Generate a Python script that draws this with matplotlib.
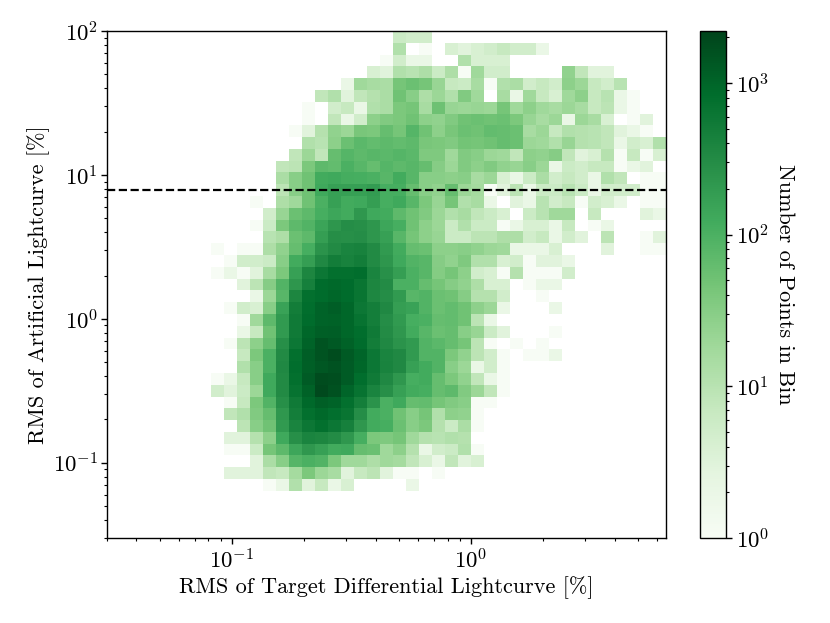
import numpy as np
import matplotlib
matplotlib.use('Agg')
import matplotlib.pyplot as plt
from matplotlib.colors import LogNorm

plt.rcParams['font.family'] = ['cmr10', 'DejaVu Sans']
plt.rcParams['mathtext.fontset'] = 'cm'
plt.rcParams['axes.formatter.use_mathtext'] = True
plt.rcParams['axes.unicode_minus'] = False

x_lim = [0.03, 6.5]
y_lim = [0.03, 100]
cut_level = 7.8
count_max = 2200
n_bins = 43

# first occupied x bin of each y bin, top row first
row_start = [22, 22, 21, 20, 18, 16, 15, 15, 14, 15, 14, 13, 13, 13, 11, 12, 11, 12, 8, 9,
             8, 10, 11, 9, 10, 10, 9, 10, 10, 8, 8, 9, 9, 10, 9, 9, 11, 9, 12]

# points in each bin
row_counts = [
    [6, 5, 5],
    [12, 0, 1, 0, 4, 3, 4, 5, 7, 5, 5, 2],
    [1, 5, 2, 2, 0, 0, 12, 4, 4, 4],
    [4, 3, 12, 10, 13, 6, 13, 1, 18, 5, 5, 0, 0, 0, 0, 25, 8, 3, 3],
    [2, 18, 15, 14, 45, 55, 45, 22, 7, 6, 15, 1, 12, 14, 5, 7, 5, 28, 20, 7, 5, 10],
    [8, 12, 3, 8, 11, 14, 50, 30, 13, 20, 12, 35, 18, 0, 15, 2, 18, 7, 4, 18, 28, 7, 10, 2, 1],
    [1, 0, 5, 7, 2, 12, 14, 40, 45, 15, 52, 22, 20, 22, 20, 45, 18, 28, 18, 15, 20, 15, 7, 9, 2, 1],
    [1, 0, 8, 2, 5, 28, 35, 40, 50, 28, 25, 35, 50, 55, 50, 55, 40, 22, 15, 20, 2, 20, 15, 4, 0, 1, 3],
    [1, 3, 11, 25, 20, 42, 40, 60, 45, 85, 50, 28, 42, 55, 50, 65, 60, 55, 15, 20, 7, 12, 11, 10, 8, 3, 2, 1],
    [12, 10, 28, 55, 75, 65, 70, 65, 70, 42, 40, 35, 48, 45, 50, 60, 55, 20, 18, 12, 22, 11, 10, 8, 2, 5, 4, 12],
    [8, 20, 8, 60, 85, 70, 80, 75, 85, 75, 38, 38, 18, 35, 30, 20, 18, 8, 28, 25, 32, 8, 3, 4, 11, 1, 7, 1, 4],
    [8, 9, 40, 70, 65, 100, 80, 60, 85, 70, 80, 60, 32, 20, 35, 28, 35, 25, 22, 30, 20, 2, 6, 5, 7, 7, 1, 2, 3],
    [14, 30, 50, 120, 130, 115, 110, 100, 80, 120, 80, 30, 30, 28, 30, 15, 20, 4, 2, 6, 14, 5, 7, 5, 2, 12, 8, 0, 1, 1],
    [9, 30, 50, 130, 170, 170, 170, 190, 110, 110, 60, 30, 25, 60, 20, 16, 1, 3, 9, 2, 6, 6, 10, 6, 2, 5, 5, 5, 1, 1],
    [1, 0, 13, 18, 50, 100, 170, 120, 130, 180, 110, 130, 80, 40, 22, 45, 12, 15, 2, 0, 3, 2, 10, 5, 7, 1, 5, 4, 2, 0, 1, 1],
    [5, 22, 55, 70, 110, 140, 120, 220, 130, 120, 70, 50, 35, 20, 12, 15, 8, 6, 4, 0, 6, 10, 18, 18, 0, 7, 0, 0, 0, 3, 2],
    [1, 6, 40, 70, 90, 150, 230, 300, 280, 230, 140, 110, 50, 28, 20, 6, 12, 6, 6, 1, 2, 4, 4, 2, 7, 0, 1, 2],
    [10, 13, 55, 70, 180, 290, 280, 300, 230, 170, 80, 45, 28, 22, 6, 6, 9, 9, 13, 13, 5, 7, 2, 5, 3, 0, 9, 0, 0, 1, 3],
    [1, 0, 1, 1, 13, 25, 60, 110, 250, 330, 400, 430, 330, 200, 120, 60, 55, 28, 28, 30, 25, 20, 18, 2, 2, 2, 4, 0, 0, 0, 3, 0, 0, 1, 1],
    [1, 5, 5, 6, 30, 120, 180, 350, 500, 430, 500, 330, 230, 130, 90, 80, 32, 25, 38, 12, 12, 4, 5, 1, 3, 3, 2],
    [1, 2, 1, 3, 15, 40, 170, 380, 600, 750, 750, 800, 400, 270, 180, 100, 80, 33, 45, 28, 5, 4, 1, 11, 1, 1, 1, 5],
    [3, 9, 32, 90, 230, 450, 850, 900, 850, 650, 380, 320, 100, 100, 60, 45, 32, 25, 13, 4, 4, 0, 1, 2, 2],
    [2, 20, 80, 380, 750, 850, 950, 850, 650, 370, 300, 200, 80, 90, 55, 50, 32, 11, 11, 5, 0, 0, 1],
    [1, 5, 4, 30, 160, 500, 800, 1050, 1200, 950, 600, 480, 350, 180, 160, 90, 55, 65, 50, 27, 20, 2, 0, 0, 0, 2],
    [1, 18, 70, 200, 550, 850, 1050, 1100, 950, 700, 480, 300, 200, 110, 100, 60, 65, 50, 9, 2],
    [2, 7, 50, 200, 550, 950, 1150, 1200, 950, 800, 550, 320, 220, 120, 80, 55, 60, 30, 22, 6, 3, 0, 0, 0, 1],
    [1, 9, 28, 60, 280, 600, 1050, 1500, 1350, 1100, 850, 500, 350, 250, 200, 90, 75, 60, 45, 9, 1, 0, 1, 0, 1],
    [7, 40, 100, 330, 750, 1200, 1500, 1800, 1300, 1000, 600, 400, 350, 200, 90, 90, 40, 25, 9, 5, 1, 0, 1, 1, 2],
    [12, 30, 100, 350, 800, 1150, 1400, 1550, 1250, 950, 600, 420, 350, 170, 120, 90, 30, 20, 2, 5, 1],
    [1, 2, 7, 30, 130, 330, 750, 1250, 1800, 1700, 1250, 800, 550, 350, 220, 110, 120, 60, 40, 25, 8, 2, 1],
    [5, 3, 6, 20, 130, 330, 700, 1100, 1900, 1600, 1000, 700, 400, 280, 170, 120, 110, 60, 70, 35, 20, 8, 1],
    [1, 7, 40, 90, 280, 550, 900, 1150, 1050, 750, 480, 250, 100, 130, 60, 65, 45, 35, 30, 1, 1],
    [8, 12, 35, 60, 220, 480, 750, 900, 780, 650, 300, 120, 100, 50, 30, 45, 12, 28, 25, 1],
    [9, 30, 50, 200, 400, 600, 750, 600, 450, 220, 120, 110, 55, 30, 40, 11, 6, 14, 1],
    [3, 3, 11, 28, 130, 280, 400, 380, 320, 220, 110, 40, 38, 45, 18, 11, 10, 12, 11],
    [1, 1, 6, 45, 70, 140, 220, 170, 120, 130, 60, 55, 18, 28, 11, 2, 5, 6, 12, 1],
    [3, 14, 30, 85, 100, 90, 40, 18, 18, 13, 18, 16, 8, 4, 2, 8, 3, 4],
    [3, 3, 3, 8, 7, 16, 40, 20, 15, 3, 7, 9, 3, 1, 1, 0, 1],
    [1, 2, 12, 3, 7, 2, 4, 0, 0, 0, 0, 2],
]

counts = np.zeros((n_bins, n_bins))
for i, (start, vals) in enumerate(zip(row_start, row_counts)):
    counts[i, start:start + len(vals)] = vals

x_edges = np.logspace(np.log10(x_lim[0]), np.log10(x_lim[1]), n_bins + 1)
y_edges = np.logspace(np.log10(y_lim[1]), np.log10(y_lim[0]), n_bins + 1)

fig = plt.figure(figsize=(8.3, 6.23), dpi=100)
ax = fig.add_axes([106.5 / 830, 1 - 538 / 623, 559 / 830, 507 / 623])
cax = fig.add_axes([700 / 830, 1 - 538 / 623, 26 / 830, 507 / 623])

mesh = ax.pcolormesh(x_edges, y_edges, np.ma.masked_equal(counts, 0), cmap='Greens',
                     norm=LogNorm(vmin=1, vmax=count_max), antialiased=True)
ax.axhline(cut_level, color='k', ls='--', lw=1.6)
ax.set_xscale('log')
ax.set_yscale('log')
ax.set_xlim(x_lim)
ax.set_ylim(y_lim)
ax.set_xlabel('RMS of Target Differential Lightcurve [%]', fontsize=16, labelpad=2.5)
ax.set_ylabel('RMS of Artificial Lightcurve [%]', fontsize=16, labelpad=2.5)
ax.tick_params(which='major', labelsize=16.5, length=4, width=1)
ax.tick_params(which='minor', length=2, width=0.8)
ax.tick_params(axis='y', which='major', pad=2)
for s in ax.spines.values():
    s.set_linewidth(1)

cb = fig.colorbar(mesh, cax=cax)
cb.set_label('Number of Points in Bin', fontsize=16, rotation=270, labelpad=18)
cb.ax.tick_params(which='major', labelsize=16.5, length=4, width=1)
cb.ax.tick_params(which='minor', length=2, width=0.8)
cb.outline.set_linewidth(1)

fig.savefig('out.png', dpi=100)
